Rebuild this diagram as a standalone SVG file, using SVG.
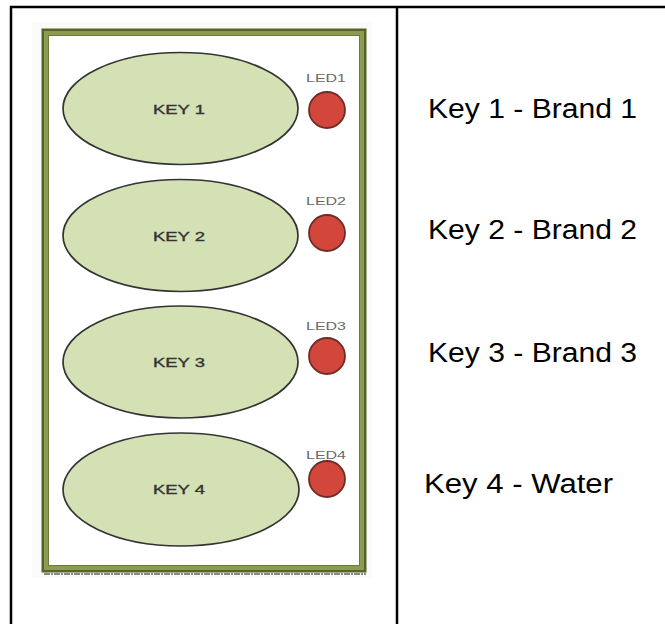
<svg xmlns="http://www.w3.org/2000/svg" width="665" height="624" viewBox="0 0 665 624">
<style>
.tbl{stroke:#000;stroke-width:2.5;fill:none}
.key{fill:#d4e1b4;stroke:#333;stroke-width:1.7}
.led{fill:#d3463b;stroke:#6e2c27;stroke-width:1.8}
.kt{font-family:"Liberation Sans",Arial,sans-serif;font-size:13px;fill:#333;stroke:#333;stroke-width:0.35}
.lt{font-family:"Liberation Sans",Arial,sans-serif;font-size:10.5px;fill:#6a6a6a}
.rt{font-family:"Liberation Sans",Arial,sans-serif;font-size:27px;fill:#000}
</style>
<rect width="665" height="624" fill="#fff"/>
<g id="table">
<path class="tbl" d="M11 624 V7 H665 M397 7 V624"/>
</g>
<g id="panel">
<rect x="32" y="22" width="340" height="556" fill="#fbfbf9"/>
<rect x="43" y="30" width="322" height="541" fill="#fff" stroke="#56642a" stroke-width="3"/>
<rect x="46" y="33" width="316" height="535" fill="none" stroke="#8d9c52" stroke-width="4"/>
<rect x="48.5" y="35.5" width="311" height="530" fill="none" stroke="#6b7a38" stroke-width="1"/>
<line x1="44" y1="574" x2="366" y2="574" stroke="#888" stroke-width="2" stroke-dasharray="6 1 2 1"/>
</g>
<g id="key1">
<ellipse class="key" cx="180.5" cy="108.5" rx="117.5" ry="56"/>
<text class="kt" x="179" y="114" text-anchor="middle" textLength="52" lengthAdjust="spacingAndGlyphs">KEY 1</text>
</g>
<g id="led1">
<text class="lt" x="326" y="82" text-anchor="middle" textLength="40" lengthAdjust="spacingAndGlyphs">LED1</text>
<circle class="led" cx="327" cy="110" r="18"/>
</g>
<g id="key2">
<ellipse class="key" cx="180.5" cy="235.5" rx="117.5" ry="56"/>
<text class="kt" x="179" y="241" text-anchor="middle" textLength="52" lengthAdjust="spacingAndGlyphs">KEY 2</text>
</g>
<g id="led2">
<text class="lt" x="326" y="205" text-anchor="middle" textLength="40" lengthAdjust="spacingAndGlyphs">LED2</text>
<circle class="led" cx="327" cy="233" r="18"/>
</g>
<g id="key3">
<ellipse class="key" cx="180.5" cy="362" rx="117.5" ry="56"/>
<text class="kt" x="179" y="367" text-anchor="middle" textLength="52" lengthAdjust="spacingAndGlyphs">KEY 3</text>
</g>
<g id="led3">
<text class="lt" x="326" y="330" text-anchor="middle" textLength="40" lengthAdjust="spacingAndGlyphs">LED3</text>
<circle class="led" cx="327" cy="356" r="18"/>
</g>
<g id="key4">
<ellipse class="key" cx="181" cy="489.5" rx="118" ry="56.5"/>
<text class="kt" x="179" y="494" text-anchor="middle" textLength="52" lengthAdjust="spacingAndGlyphs">KEY 4</text>
</g>
<g id="led4">
<text class="lt" x="326" y="459" text-anchor="middle" textLength="40" lengthAdjust="spacingAndGlyphs">LED4</text>
<circle class="led" cx="327" cy="479" r="18"/>
</g>
<g id="legend">
<text class="rt" x="428" y="118" textLength="209" lengthAdjust="spacingAndGlyphs">Key 1 - Brand 1</text>
<text class="rt" x="428" y="239" textLength="209" lengthAdjust="spacingAndGlyphs">Key 2 - Brand 2</text>
<text class="rt" x="428" y="362" textLength="209" lengthAdjust="spacingAndGlyphs">Key 3 - Brand 3</text>
<text class="rt" x="424" y="493" textLength="189" lengthAdjust="spacingAndGlyphs">Key 4 - Water</text>
</g>
</svg>
